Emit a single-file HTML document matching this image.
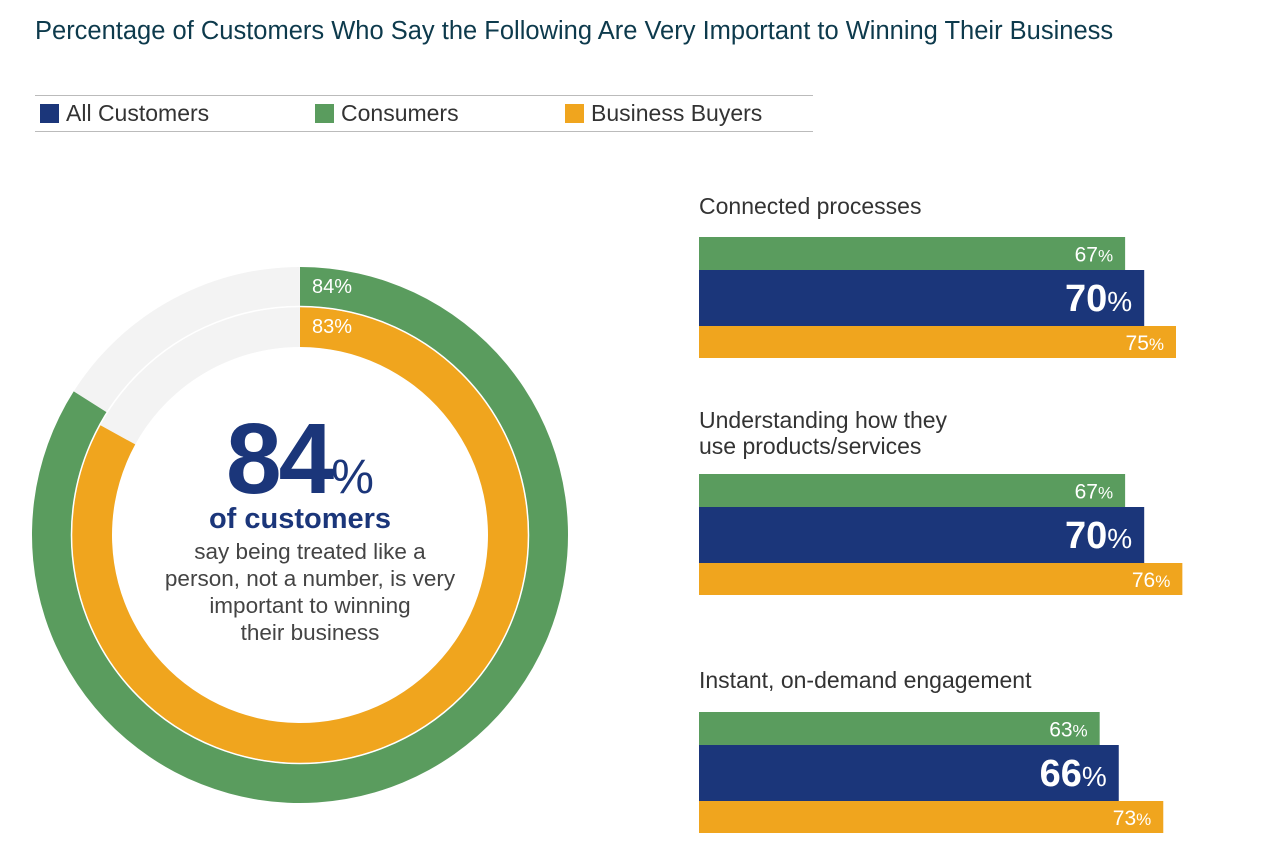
<!DOCTYPE html>
<html><head><meta charset="utf-8">
<style>
body{margin:0;width:1280px;height:861px;background:#fff;font-family:"Liberation Sans",sans-serif;overflow:hidden;position:relative}
.t{position:absolute;white-space:nowrap}
</style></head>
<body>
<div class="t" style="left:35px;top:17px;font-size:25.5px;color:#0d3a4c">Percentage of Customers Who Say the Following Are Very Important to Winning Their Business</div>
<div style="position:absolute;left:35px;top:95px;width:778px;height:1px;background:#bbb"></div>
<div style="position:absolute;left:35px;top:131px;width:778px;height:1px;background:#bbb"></div>
<div class="t" style="left:40px;top:100px;font-size:23px;color:#333"><span style="display:inline-block;width:19px;height:19px;background:#1b367a;vertical-align:-2px;margin-right:7px"></span>All Customers</div>
<div class="t" style="left:315px;top:100px;font-size:23px;color:#333"><span style="display:inline-block;width:19px;height:19px;background:#5a9c5e;vertical-align:-2px;margin-right:7px"></span>Consumers</div>
<div class="t" style="left:565px;top:100px;font-size:23px;color:#333"><span style="display:inline-block;width:19px;height:19px;background:#f0a51e;vertical-align:-2px;margin-right:7px"></span>Business Buyers</div>

<svg id="chart" width="1280" height="861" style="position:absolute;left:0;top:0"></svg>

<div class="t" style="left:0;width:600px;text-align:center;top:402px;color:#1b367a"><span style="font-size:100px;font-weight:bold;letter-spacing:-3px">84</span><span style="font-size:48px">%</span></div>
<div class="t" style="left:0;width:600px;text-align:center;top:503px;font-size:29px;font-weight:bold;color:#1b367a">of customers</div>
<div class="t" style="left:0;width:620px;text-align:center;top:538px;font-size:22.5px;line-height:27px;color:#444;white-space:normal;padding:0 10px;box-sizing:border-box">say being treated like a<br>person, not a number, is very<br>important to winning<br>their business</div>

<div class="t" style="left:699px;top:193px;font-size:23px;color:#333">Connected processes</div>
<div class="t" style="left:699px;top:407px;font-size:23px;line-height:26px;color:#333">Understanding how they<br>use products/services</div>
<div class="t" style="left:699px;top:667px;font-size:23px;color:#333">Instant, on-demand engagement</div>

<script>
const ringValues=[84,83];
const ringLabels=["84%","83%"];
const groups=["Connected processes","Understanding how they use products/services","Instant, on-demand engagement"];
const consumers=[67,67,63];
const allCustomers=[70,70,66];
const businessBuyers=[75,76,73];

const NS="http://www.w3.org/2000/svg";
const svg=document.getElementById('chart');
function mk(tag,attrs){const e=document.createElementNS(NS,tag);for(const k in attrs)e.setAttribute(k,attrs[k]);svg.appendChild(e);return e;}
const cx=300,cy=535;
const rings=[{ro:268,ri:229,c:"#5a9c5e"},{ro:228,ri:188,c:"#f0a51e"}];
function arcPath(ro,ri,frac){
  const a=Math.min(frac,0.9999)*2*Math.PI;
  const p=(r,t)=>[cx+r*Math.sin(t),cy-r*Math.cos(t)];
  const large=a>Math.PI?1:0;
  const [x1,y1]=p(ro,0),[x2,y2]=p(ro,a),[x3,y3]=p(ri,a),[x4,y4]=p(ri,0);
  return `M${x1},${y1}A${ro},${ro} 0 ${large} 1 ${x2},${y2}L${x3},${y3}A${ri},${ri} 0 ${large} 0 ${x4},${y4}Z`;
}
rings.forEach((r,i)=>{
  const bg=mk('path',{d:arcPath(r.ro,r.ri,1),fill:"#f3f3f3"});
  
  
  const arc=mk('path',{d:arcPath(r.ro,r.ri,ringValues[i]/100),fill:r.c});
  
  
  const t=mk('text',{x:cx+12,y:cy-r.ro+26,fill:"#fff","font-size":"20","font-family":"Liberation Sans, sans-serif"});
  t.textContent=ringLabels[i];
  
  
});
mk('circle',{cx:cx,cy:cy,r:228.5,fill:"none",stroke:"#fff","stroke-width":"1.5"});

const x0=699,k=6.36;
const xs=v=>x0+v*k;
const groupTops=[237,474,712];
const bands=[{arr:consumers,dy:0,h:33,c:"#5a9c5e",name:"consumers",fs:21,bold:false},
             {arr:allCustomers,dy:33,h:56,c:"#1b367a",name:"all-customers",fs:38,bold:true},
             {arr:businessBuyers,dy:89,h:32,c:"#f0a51e",name:"business-buyers",fs:21,bold:false}];
groups.forEach((g,gi)=>{
  bands.forEach(b=>{
    const v=b.arr[gi];
    const y=groupTops[gi]+b.dy;
    const rect=mk('rect',{x:x0,y:y,width:xs(v)-x0,height:b.h,fill:b.c});
    
    
    const t=mk('text',{x:xs(v)-12,y:y+b.h/2+(b.bold?13:8),fill:"#fff","text-anchor":"end","font-family":"Liberation Sans, sans-serif"});
    const n=document.createElementNS(NS,'tspan');n.textContent=v;
    n.setAttribute('font-size',b.fs);if(b.bold)n.setAttribute('font-weight','bold');
    const p=document.createElementNS(NS,'tspan');p.textContent='%';
    p.setAttribute('font-size',b.bold?28:17);
    t.appendChild(n);t.appendChild(p);
    
    
  });
});
</script>
</body></html>
